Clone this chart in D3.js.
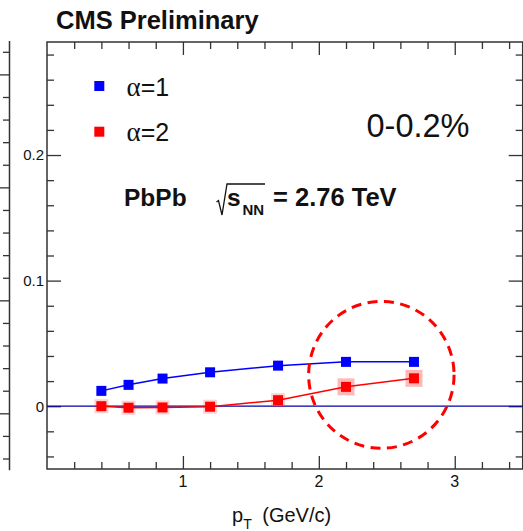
<!DOCTYPE html>
<html>
<head>
<meta charset="utf-8">
<script src="https://cdn.jsdelivr.net/npm/d3@7"></script>
<style>
  html, body { margin: 0; padding: 0; background: #fff; }
  svg { display: block; }
  text { font-family: "Liberation Sans", Arial, sans-serif; }
</style>
</head>
<body>
<svg id="chart" width="523" height="531"></svg>
<script>
// ---- data ----
const ptBins   = [0.4, 0.6, 0.85, 1.2, 1.7, 2.2, 2.7];
const alpha1   = [0.0122, 0.0170, 0.0220, 0.0270, 0.0323, 0.0353, 0.0353];
const alpha2   = [0.0000, -0.0012, -0.0010, -0.0004, 0.0048, 0.0154, 0.0222];
const xMajorTicks = [1, 2, 3];
const yMajorTicks = [0, 0.1, 0.2];
const yTickLabels = ["0", "0.1", "0.2"];
const legendLabels = ["α=1", "α=2"];
const seriesColors = ["#0000ff", "#ff0000"];
const centralityLabel = "0-0.2%";
const circleCenter = [2.46, 0.025];   // highlighted region (data units)
const circleRadius = [0.535, 0.0585]; // half-widths in data units

const svg = d3.select("#chart");
const M = {left: 47, right: 522.7, top: 42, bottom: 469};

const x = d3.scaleLinear().domain([0, 3.5]).range([M.left, M.right]);
const y = d3.scaleLinear().domain([-0.05, 0.29]).range([M.bottom, M.top]);

const xMinor = d3.range(0.2, 3.5, 0.2).map(v => +v.toFixed(2)).filter(v => !xMajorTicks.some(m => Math.abs(m - v) < 1e-6));
const yMinor = d3.range(-0.04, 0.29, 0.02).map(v => +v.toFixed(3)).filter(v => !yMajorTicks.some(m => Math.abs(m - v) < 1e-6));

const axisColor = "#333";

// ---- neighbouring panel's cut-off right axis (left strip) ----
const yNb = d3.scaleLinear().domain([-0.5, 3.3]).range([470.3, 41]);
const nbMinor = d3.range(-0.4, 3.3, 0.2).map(v => +v.toFixed(2));
const nbG = svg.append("g");
nbG.append("line").attr("x1", 9.5).attr("x2", 9.5).attr("y1", yNb(3.3)).attr("y2", yNb(-0.5))
  .attr("stroke", axisColor).attr("stroke-width", 1.5);
nbG.selectAll("line.t").data(nbMinor).join("line").attr("class", "t")
  .attr("x1", d => Math.abs(d - Math.round(d)) < 1e-6 ? 0 : 3)
  .attr("x2", 9.5)
  .attr("y1", d => yNb(d)).attr("y2", d => yNb(d))
  .attr("stroke", axisColor).attr("stroke-width", 1.3);

// ---- frame ----
svg.append("rect").attr("x", M.left).attr("y", M.top)
  .attr("width", M.right - M.left).attr("height", M.bottom - M.top)
  .attr("fill", "none").attr("stroke", axisColor).attr("stroke-width", 1.5);

// ---- axes via d3 axis generators ----
function tickAxis(gen, scale, vals, size, transform) {
  const g = svg.append("g").attr("transform", transform)
    .call(gen(scale).tickValues(vals).tickSize(size).tickFormat(""));
  g.select(".domain").remove();
  g.selectAll(".tick line").attr("stroke", axisColor).attr("stroke-width", 1.3);
  return g;
}
// bottom (ticks pointing up)
tickAxis(d3.axisTop, x, xMajorTicks, 13, `translate(0,${M.bottom})`);
tickAxis(d3.axisTop, x, xMinor, 7, `translate(0,${M.bottom})`);
// top (ticks pointing down)
tickAxis(d3.axisBottom, x, xMajorTicks, 13, `translate(0,${M.top})`);
tickAxis(d3.axisBottom, x, xMinor, 7, `translate(0,${M.top})`);
// left (ticks pointing right)
tickAxis(d3.axisRight, y, yMajorTicks, 14, `translate(${M.left},0)`);
tickAxis(d3.axisRight, y, yMinor, 7, `translate(${M.left},0)`);
// right (ticks pointing left)
tickAxis(d3.axisLeft, y, yMajorTicks, 14, `translate(${M.right},0)`);
tickAxis(d3.axisLeft, y, yMinor, 7, `translate(${M.right},0)`);

// tick labels
svg.append("g").selectAll("text").data(xMajorTicks).join("text")
  .attr("x", d => x(d)).attr("y", 487).attr("text-anchor", "middle")
  .attr("font-size", 16).attr("fill", "#111").text(d => d);
svg.append("g").selectAll("text").data(yMajorTicks).join("text")
  .attr("x", 44).attr("y", d => y(d) + 5.3).attr("text-anchor", "end")
  .attr("font-size", 15).attr("fill", "#111").text((d, i) => yTickLabels[i]);

// x axis title
const xt = svg.append("text").attr("x", 232).attr("y", 521.5).attr("font-size", 20).attr("fill", "#111");
xt.append("tspan").text("p");
xt.append("tspan").attr("font-size", 14).attr("dy", 7).text("T");
xt.append("tspan").attr("dy", -7).attr("dx", 5).text(" (GeV/c)");

// zero line
svg.append("line").attr("x1", x(0)).attr("x2", x(3.5)).attr("y1", y(0)).attr("y2", y(0))
  .attr("stroke", "#0000a8").attr("stroke-width", 1.3);

// ---- series ----
const series = [alpha1, alpha2];
const line = d3.line().x(d => x(d[0])).y(d => y(d[1]));
series.forEach((vals, si) => {
  const pts = ptBins.map((p, i) => [p, vals[i]]);
  const g = svg.append("g");
  if (si === 1) {
    g.selectAll("rect.halo").data(pts).join("rect").attr("class", "halo")
      .attr("x", (d, i) => x(d[0]) - (i >= 5 ? 8.5 : 7))
      .attr("y", (d, i) => y(d[1]) - (i >= 5 ? 8.5 : 7))
      .attr("width", (d, i) => i >= 5 ? 17 : 14)
      .attr("height", (d, i) => i >= 5 ? 17 : 14)
      .attr("fill", "#ff0000").attr("opacity", (d, i) => i >= 5 ? 0.28 : 0.18);
  }
  g.append("path").datum(pts).attr("d", line).attr("fill", "none")
    .attr("stroke", seriesColors[si]).attr("stroke-width", 1.5);
  g.selectAll("rect.m").data(pts).join("rect").attr("class", "m")
    .attr("x", d => x(d[0]) - 5).attr("y", d => y(d[1]) - 5)
    .attr("width", 10).attr("height", 10).attr("fill", seriesColors[si]);
});

// dashed highlight circle
svg.append("ellipse")
  .attr("cx", x(circleCenter[0])).attr("cy", y(circleCenter[1]))
  .attr("rx", x(circleCenter[0] + circleRadius[0]) - x(circleCenter[0]))
  .attr("ry", y(circleCenter[1]) - y(circleCenter[1] + circleRadius[1]))
  .attr("fill", "none").attr("stroke", "#ff0000").attr("stroke-width", 3)
  .attr("stroke-dasharray", "10,6.5");

// ---- legend ----
const lg = svg.append("g");
legendLabels.forEach((lab, i) => {
  const cy = 86 + i * 45.7;
  lg.append("rect").attr("x", 94.3).attr("y", cy - 5).attr("width", 10).attr("height", 10)
    .attr("fill", seriesColors[i]);
  const t = lg.append("text").attr("x", 126.5).attr("y", cy + 9.7).attr("font-size", 25).attr("fill", "#111");
  t.append("tspan").attr("font-family", "'Liberation Serif', 'DejaVu Serif', serif").attr("font-size", 27).text(lab[0]);
  t.append("tspan").text(lab.slice(1));
});

// ---- annotations ----
svg.append("text").attr("x", 56).attr("y", 29).attr("font-size", 25.5).attr("font-weight", "bold")
  .attr("fill", "#111").text("CMS Preliminary");

svg.append("text").attr("x", 366.5).attr("y", 136.5).attr("font-size", 32.5).attr("fill", "#111")
  .text(centralityLabel);

svg.append("text").attr("x", 124).attr("y", 206).attr("font-size", 24.5).attr("font-weight", "bold")
  .attr("fill", "#111").text("PbPb");
// radical sign
svg.append("path").attr("d", "M216.5,202 L218.5,200.5 L222,215 L227,184 L265,184")
  .attr("fill", "none").attr("stroke", "#111").attr("stroke-width", 1.3);
svg.append("text").attr("x", 227).attr("y", 206).attr("font-size", 24.5).attr("font-weight", "bold")
  .attr("fill", "#111").text("s");
svg.append("text").attr("x", 242.5).attr("y", 214.5).attr("font-size", 15).attr("font-weight", "bold")
  .attr("fill", "#111").text("NN");
svg.append("text").attr("x", 273).attr("y", 206).attr("font-size", 25.5).attr("font-weight", "bold")
  .attr("fill", "#111").text("= 2.76 TeV");
</script>
</body>
</html>
